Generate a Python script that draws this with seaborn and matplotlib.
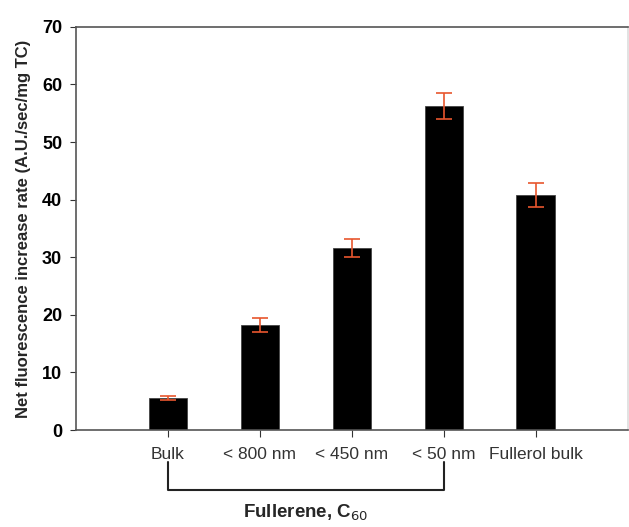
import matplotlib
matplotlib.use('Agg')
import matplotlib.pyplot as plt
import matplotlib.transforms as mtransforms
import seaborn as sns
import pandas as pd

categories = ['Bulk', '< 800 nm', '< 450 nm', '< 50 nm', 'Fullerol bulk']
rates = [5.6, 18.2, 31.6, 56.3, 40.8]
errors = [0.3, 1.2, 1.5, 2.3, 2.1]

df = pd.DataFrame({'sample': categories, 'rate': rates, 'err': errors})

sns.set_style('ticks')
plt.rcParams['font.family'] = ['Liberation Sans', 'DejaVu Sans']

fig = plt.figure(figsize=(6.29, 5.27), dpi=100)
ax = fig.add_axes([0.121, 0.184, 0.877, 0.765])

# Black bars
sns.barplot(data=df, x='sample', y='rate', color='black', width=0.42,
            edgecolor='#444444', linewidth=0.6, errorbar=None, ax=ax)
# Orange error bars
ax.errorbar(range(len(categories)), df['rate'], yerr=df['err'], fmt='none',
            ecolor='#e8562e', elinewidth=1.2, capsize=6, capthick=1.2, zorder=5)

ax.set_xlim(-1, 5)
ax.set_ylim(0, 70)
ax.set_yticks(range(0, 71, 10))
ax.set_xlabel('')
ax.set_ylabel('Net fluorescence increase rate (A.U./sec/mg TC)',
              fontsize=12, fontweight='bold', labelpad=8)
for lbl in ax.get_yticklabels():
    lbl.set_fontweight('bold')
ax.tick_params(axis='y', labelsize=13, direction='out', length=4, width=0.8,
               colors='#333333', labelcolor='black', pad=6)
ax.tick_params(axis='x', labelsize=12.5, direction='out', length=5, width=0.8,
               colors='#333333', labelcolor='#333333', pad=7)
for side in ['top', 'right', 'left', 'bottom']:
    ax.spines[side].set_visible(True)
    ax.spines[side].set_color('#555555')
    ax.spines[side].set_linewidth(1.2)
ax.spines['right'].set_color('#dddddd')

# Bracket under the C60 samples
trans = mtransforms.blended_transform_factory(ax.transData, ax.transAxes)
ax.plot([0, 0, 3, 3], [-0.079, -0.149, -0.149, -0.079], transform=trans,
        color='#222222', linewidth=1.5, clip_on=False)
ax.text(1.5, -0.205, 'Fullerene, C$_{60}$', transform=trans, ha='center', va='center',
        fontsize=13.5, fontweight='bold')

fig.savefig('out.png', dpi=100)
